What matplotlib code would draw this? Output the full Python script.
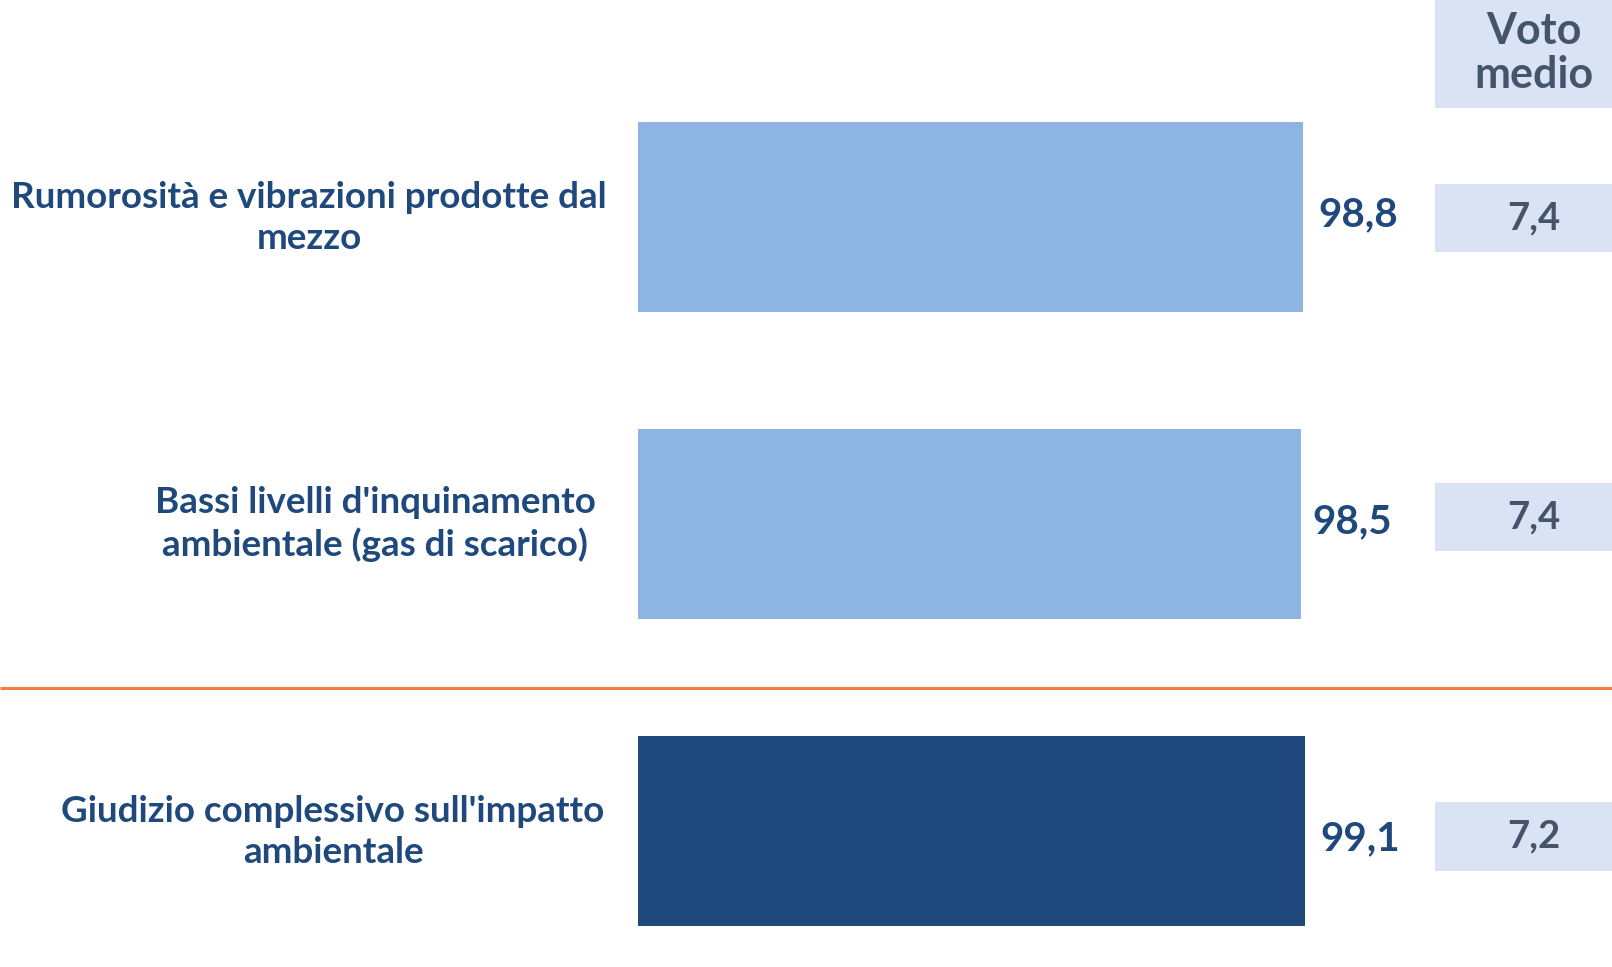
import matplotlib
matplotlib.use("Agg")
import matplotlib.pyplot as plt
from matplotlib.patches import Rectangle

categories = [
    "Rumorosità e vibrazioni prodotte dal\nmezzo",
    "Bassi livelli d'inquinamento\nambientale (gas di scarico)",
    "Giudizio complessivo sull'impatto\nambientale",
]
values = [98.8, 98.5, 99.1]
value_labels = ["98,8", "98,5", "99,1"]
voto_medio = ["7,4", "7,4", "7,2"]
header = "Voto\nmedio"

LIGHT = "#8EB4E3"
DARK = "#1F497D"
TEXT = "#1F497D"
BOX = "#DAE3F3"
BOX_TEXT = "#44546A"
ORANGE = "#F0803C"
FONT = "Lato"

W, H = 1612, 967
fig = plt.figure(figsize=(W / 100, H / 100), dpi=100)
fig.patch.set_facecolor("white")

# overlay in pixel coordinates for the layout pieces
ov = fig.add_axes([0, 0, 1, 1])
ov.set_xlim(0, W)
ov.set_ylim(H, 0)
ov.axis("off")

# bar axes: zero at x=638 px, one category every 307 px starting at y=217 px
left_px = 638
scale = 6.735  # px per unit
bx = fig.add_axes([left_px / W, 0, 1 - left_px / W, 1])
bx.set_xlim(0, (W - left_px) / scale)
step, first = 307.0, 217.0
bx.set_ylim((H - first) / step, -first / step)
bx.axis("off")

colors = [LIGHT, LIGHT, DARK]
ypos = list(range(len(values)))
bx.barh(ypos, values, height=190 / step, color=colors, edgecolor="none")

label_offsets = [(15, 2), (11, 2), (15, -8)]
for y, v, lab, off in zip(ypos, values, value_labels, label_offsets):
    bx.annotate(lab, xy=(v, y), xytext=off, textcoords="offset pixels",
                ha="left", va="center", fontsize=29, fontweight="bold",
                color=TEXT, family=FONT)

# category labels, centred blocks ending near the bars
label_cx = [309, 375, 333]
label_cy = [218, 524, 832]
for cat, cx, cy in zip(categories, label_cx, label_cy):
    ov.text(cx, cy, cat, ha="center", va="center", fontsize=26.5,
            fontweight="bold", color=TEXT, family=FONT, linespacing=1.3)

# orange separator before the overall judgement
ov.plot([0, W], [688, 688], color=ORANGE, lw=2.2, solid_capstyle="butt")

# "Voto medio" column
bx0 = 1435
text_x = 1534
ov.add_patch(Rectangle((bx0, 0), W - bx0, 108, color=BOX, lw=0))
ov.text(text_x, 53, header, ha="center", va="center", fontsize=31,
        fontweight="bold", color=BOX_TEXT, family=FONT, linespacing=1.1)
box_y = [(184, 252), (483, 551), (802, 871)]
for (y0, y1), vm in zip(box_y, voto_medio):
    ov.add_patch(Rectangle((bx0, y0), W - bx0, y1 - y0, color=BOX, lw=0))
    ov.text(text_x, (y0 + y1) / 2, vm, ha="center", va="center",
            fontsize=27.5, fontweight="bold", color=BOX_TEXT, family=FONT)

fig.savefig("out.png", dpi=100, facecolor="white")
